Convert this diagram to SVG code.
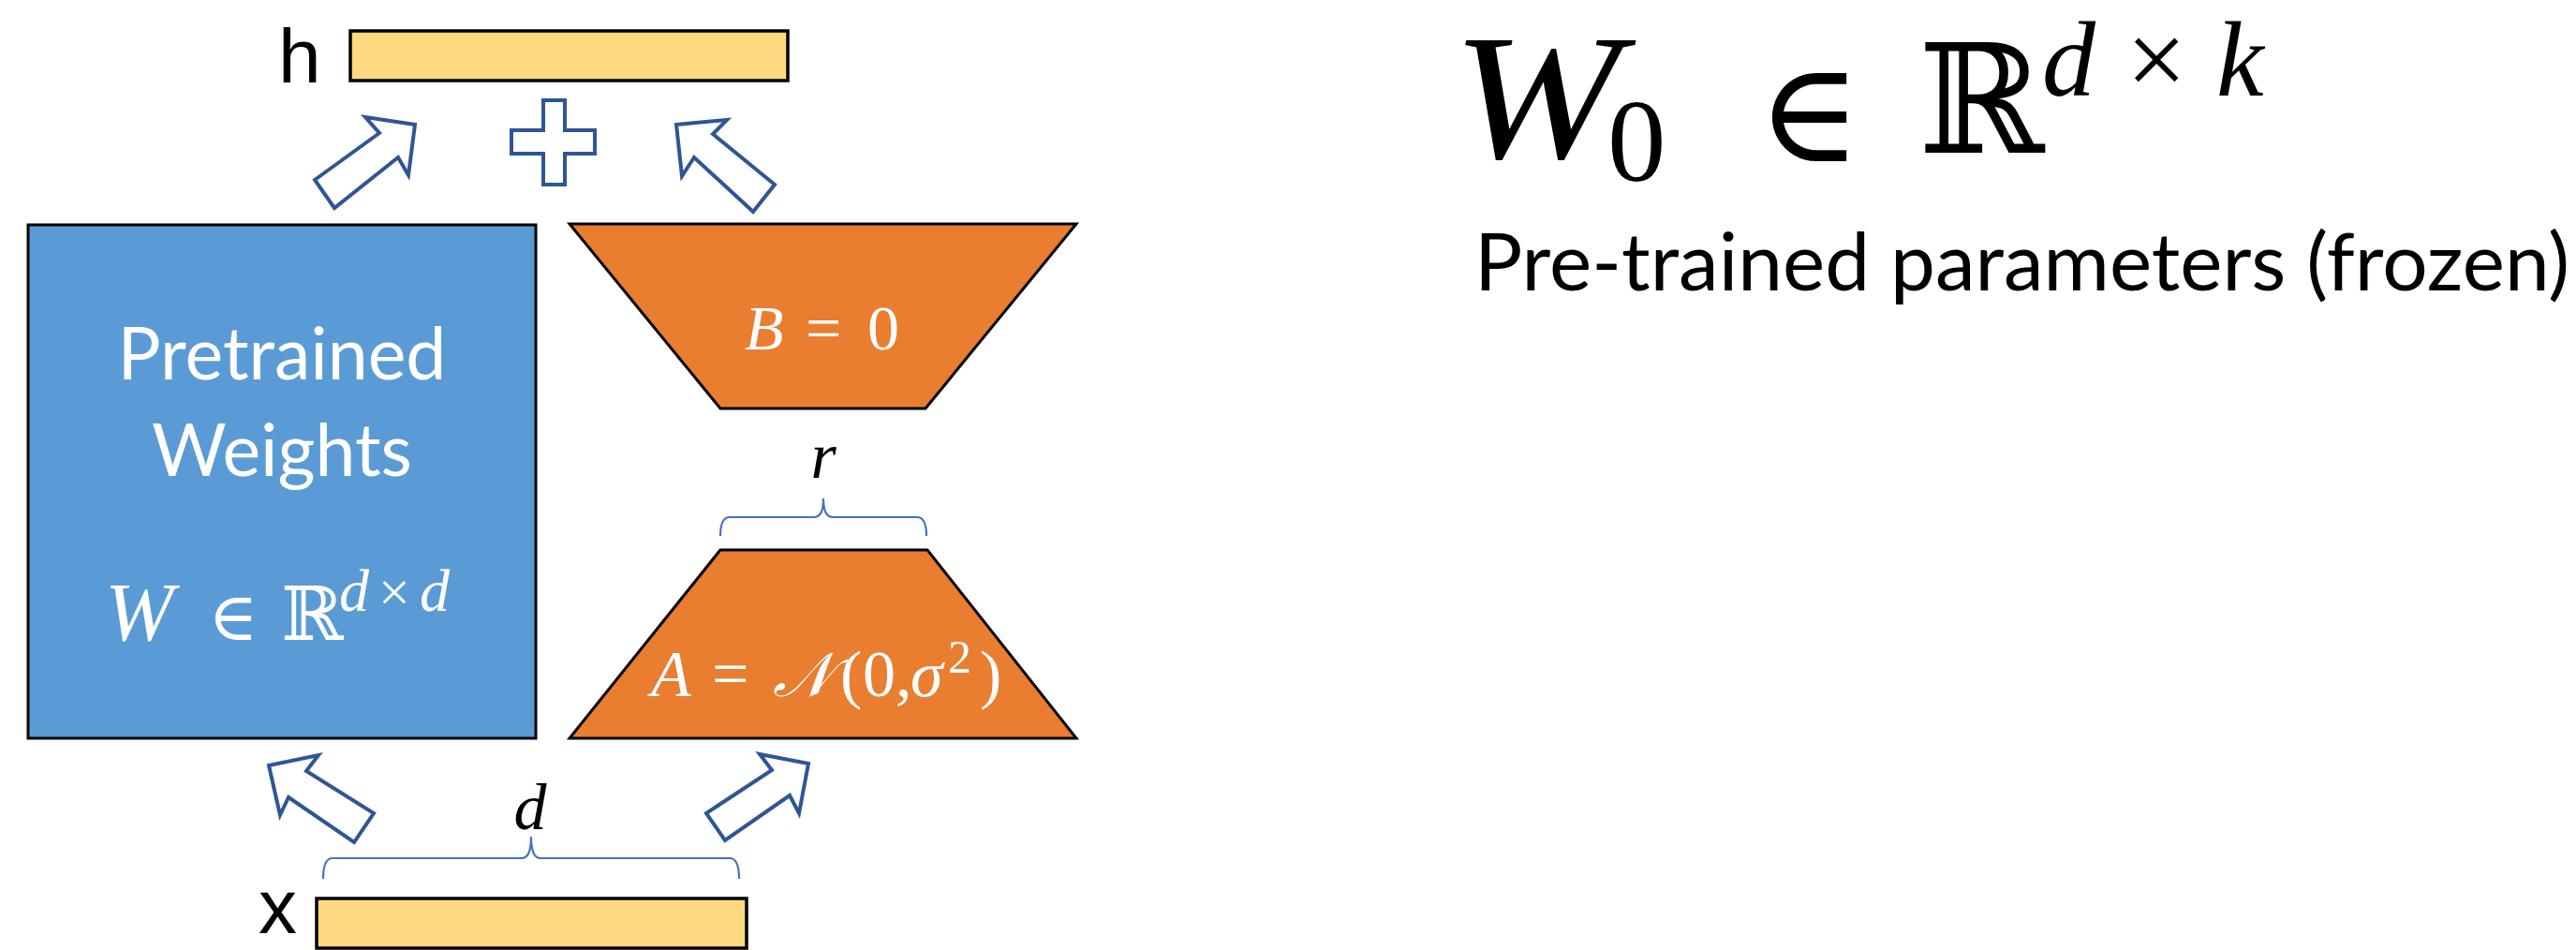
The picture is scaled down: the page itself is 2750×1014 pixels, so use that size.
<svg xmlns="http://www.w3.org/2000/svg" width="2750" height="1014" viewBox="0 0 2750 1014">
<style>
.vec{fill:#FFD97F;stroke:#000;stroke-width:3.5}
.lbl{font-family:"Liberation Sans",Arial,sans-serif;font-size:82px;fill:#000}
.wt{font-family:Lato,"Open Sans",sans-serif;font-size:77px;fill:#fff}
.m{font-family:"Liberation Serif","DejaVu Serif",serif;fill:#fff}
.mb{font-family:"Liberation Serif","DejaVu Serif",serif;fill:#000}
.sym{font-family:"DejaVu Serif","DejaVu Sans",serif}
.it{font-style:italic}
.blk{fill:#fff;stroke:#2F5597;stroke-width:4;stroke-linejoin:miter}
.brace{fill:none;stroke:#4472C4;stroke-width:2.2}
.trap{fill:#E97D30;stroke:#000;stroke-width:3}
</style>

<g id="h-vector">
  <text class="lbl" x="297" y="88">h</text>
  <rect class="vec" x="374" y="33" width="467" height="53"/>
</g>

<g id="x-vector">
  <text class="lbl" x="276" y="996">x</text>
  <rect class="vec" x="338" y="959" width="459" height="53"/>
</g>

<g id="pretrained-weights">
  <rect x="30" y="240" width="542" height="548" fill="#5B9BD5" stroke="#000" stroke-width="3"/>
  <text class="wt" x="301" y="405" text-anchor="middle">Pretrained</text>
  <text class="wt" x="301" y="508" text-anchor="middle">Weights</text>
  <text class="m" font-size="88" y="683"><tspan class="it" x="112">W</tspan><tspan class="sym" x="222" font-size="72">∈</tspan><tspan class="sym" x="300" font-size="80">ℝ</tspan><tspan class="it" x="362" y="652" font-size="64">d</tspan><tspan x="404" font-size="60">×</tspan><tspan class="it" x="448" font-size="64">d</tspan></text>
</g>

<g id="matrix-B">
  <polygon class="trap" points="608,239 1149,239 988,436 769,436"/>
  <text class="m" font-size="68" y="373"><tspan class="it" x="795">B</tspan><tspan x="860">=</tspan><tspan x="926">0</tspan></text>
</g>

<g id="matrix-A">
  <polygon class="trap" points="769,587 990,587 1149,788 608,788"/>
  <text class="m" font-size="70" y="743"><tspan class="it" x="695">A</tspan><tspan x="760">=</tspan><tspan class="it sym" x="825" font-size="66">𝒩</tspan><tspan x="897">(</tspan><tspan x="921">0</tspan><tspan x="956">,</tspan><tspan class="it" x="972">σ</tspan><tspan x="1012" y="718" font-size="50">2</tspan><tspan x="1046" y="743">)</tspan></text>
</g>

<g id="r-brace">
  <path class="brace" d="M769,572 Q769,552 779,552 L869,552 Q879,552 879,532 Q879,552 889,552 L979,552 Q989,552 989,572"/>
  <text class="mb it" font-size="70" x="879" y="510" text-anchor="middle">r</text>
</g>

<g id="d-brace">
  <path class="brace" d="M345,938 Q345,916 355,916 L557,916 Q567,916 567,893 Q567,916 577,916 L779,916 Q789,916 789,938"/>
  <text class="mb it" font-size="70" x="566" y="885" text-anchor="middle">d</text>
</g>

<g id="plus">
  <polygon class="blk" points="580,107 603,107 603,139 635,139 635,164 603,164 603,197 580,197 580,164 546,164 546,139 580,139"/>
</g>

<g id="connectors">
  <polygon class="blk" points="336,192 405,142 390,125 443,133 436,187 425,168 357,222"/>
  <polygon class="blk" points="722,133 776,128 761,143 827,197 804,226 741,168 728,188"/>
  <polygon class="blk" points="287,817 340,806 327,823 399,868 378,899 308,851 299,870"/>
  <polygon class="blk" points="863,815 811,805 824,822 754,868 774,897 843,849 853,868"/>
</g>

<g id="frozen-formula">
  <text class="mb it" font-size="190" x="1550" y="168" textLength="180" lengthAdjust="spacingAndGlyphs">W</text>
  <text class="mb" font-size="190" y="168"><tspan x="1716" y="193" font-size="125">0</tspan><tspan class="sym" x="1876" y="172" font-size="150">∈</tspan><tspan class="sym" x="2048" y="163" font-size="162">ℝ</tspan><tspan class="it" x="2180" y="102" font-size="114">d</tspan><tspan x="2270" font-size="114">×</tspan><tspan class="it" x="2366" font-size="114">k</tspan></text>
  <text font-family="Lato,'Open Sans',sans-serif" font-size="86" x="1574" y="310" textLength="1169" lengthAdjust="spacingAndGlyphs">Pre-trained parameters (frozen)</text>
</g>
</svg>
